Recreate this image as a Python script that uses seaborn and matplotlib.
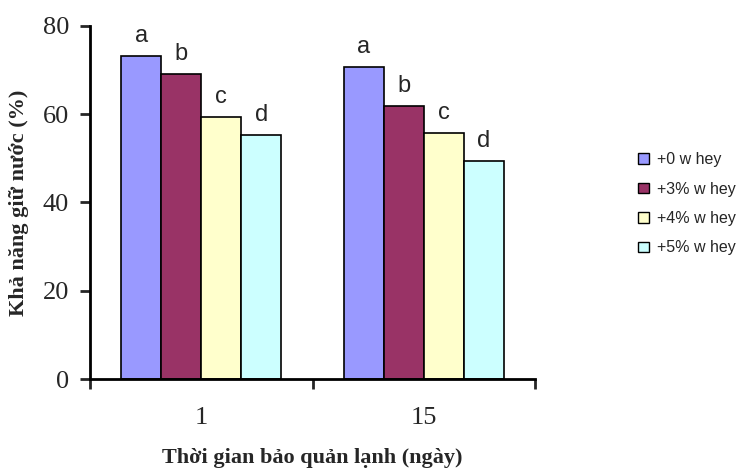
import matplotlib
matplotlib.use("Agg")
import matplotlib.pyplot as plt
import seaborn as sns
import pandas as pd
from matplotlib.patches import Patch

# Storage days (x categories) and whey treatments (hue)
days = ["1", "15"]
treatments = ["+0 w hey", "+3% w hey", "+4% w hey", "+5% w hey"]
colors = ["#9999FF", "#993366", "#FFFFCC", "#CCFFFF"]

# Water holding capacity (%) per treatment, one value per storage day
whc_0 = [73.2, 70.7]
whc_3 = [69.2, 61.9]
whc_4 = [59.4, 55.7]
whc_5 = [55.3, 49.4]
letters = ["a", "b", "c", "d"]

rows = []
for t, vals in zip(treatments, [whc_0, whc_3, whc_4, whc_5]):
    for d, v in zip(days, vals):
        rows.append({"day": d, "treatment": t, "value": v})
df = pd.DataFrame(rows)

sns.set_style("white")
fig = plt.figure(figsize=(7.43, 4.73), dpi=100)
ax = fig.add_axes([90 / 743, (473 - 379) / 473, (535 - 90) / 743, (379 - 26) / 473])

sns.barplot(data=df, x="day", y="value", hue="treatment", hue_order=treatments,
            order=days, palette=colors, width=0.72, edgecolor="black",
            linewidth=1.2, ax=ax, legend=False, errorbar=None, saturation=1)

# Significance letters above each bar
for ti, t in enumerate(treatments):
    cont = ax.containers[ti]
    for bar in cont:
        x = bar.get_x() + bar.get_width() / 2
        h = bar.get_height()
        ax.annotate(letters[ti], (x, h), xytext=(0, 10), textcoords="offset points",
                    ha="center", va="baseline", fontsize=17,
                    family="Liberation Sans")

ax.set_ylim(0, 80)
ax.set_xlim(-0.5, 1.5)
ax.set_yticks([0, 20, 40, 60, 80])
ax.set_yticklabels(["0", "20", "40", "60", "80"], family="Liberation Serif", fontsize=19)
ax.set_xticks([0, 1])
ax.set_xticklabels(days, family="Liberation Serif", fontsize=19)
ax.tick_params(axis="x", which="major", length=0, pad=20)
ax.set_xticks([-0.5, 0.5, 1.5], minor=True)
ax.tick_params(axis="x", which="minor", length=7, width=2, direction="out", bottom=True)
ax.tick_params(axis="y", length=7, width=2, direction="out", left=True, pad=8)

for s in ["top", "right"]:
    ax.spines[s].set_visible(False)
for s in ["left", "bottom"]:
    ax.spines[s].set_linewidth(2)
    ax.spines[s].set_color("black")

ax.set_xlabel("Thời gian bảo quản lạnh (ngày)", family="Liberation Serif",
              fontweight="bold", fontsize=16, labelpad=14)
ax.set_ylabel("Khả năng giữ nước (%)", family="Liberation Serif",
              fontweight="bold", fontsize=16, labelpad=10)

handles = [Patch(facecolor=c, edgecolor="black", linewidth=1) for c in colors]
fig.legend(handles, treatments, loc="upper left", bbox_to_anchor=(624 / 743, 1 - 138 / 473),
           frameon=False, prop={"family": "Liberation Sans", "size": 11.5},
           handlelength=0.65, handleheight=0.65, handletextpad=0.5, labelspacing=0.9)

fig.savefig("out.png", dpi=100)
